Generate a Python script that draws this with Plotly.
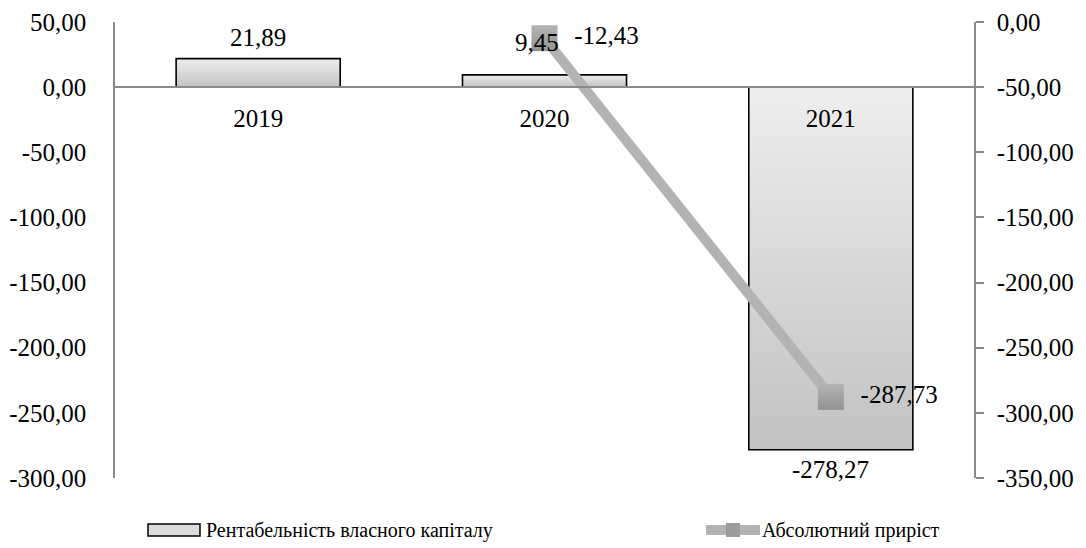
import plotly.graph_objects as go

# Data
categories = ["2019", "2020", "2021"]
roe_values = [21.89, 9.45, -278.27]          # Рентабельність власного капіталу
growth_categories = ["2020", "2021"]
growth_values = [-12.43, -287.73]            # Абсолютний приріст

left_range = [-300, 50]
right_range = [-350, 0]
left_ticks = [50, 0, -50, -100, -150, -200, -250, -300]
right_ticks = [0, -50, -100, -150, -200, -250, -300, -350]

legend_names = ["Рентабельність власного капіталу", "Абсолютний приріст"]

FONT = "Liberation Serif, Times New Roman, serif"
AXIS_GRAY = "#8a8a8a"
LINE_GRAY = "#b3b3b3"
BAR_WIDTH = 0.573

W, H = 1086, 548
M_L, M_R, M_T, M_B = 115, 112, 22, 70

# Pixel offsets (x, y) of each bar value label from the bar end
bar_label_shift = [(0, 21), (-8, 32), (0, -20)]


def fmt(v):
    return f"{v:.2f}".replace(".", ",")


def px_x(p):
    """Pixel column -> paper x fraction of the plot area."""
    return (p - M_L) / (W - M_L - M_R)


def px_y(p):
    """Pixel row -> paper y fraction of the plot area."""
    return (H - M_B - p) / (H - M_T - M_B)


fig = go.Figure()

# Bars drawn as filled rectangles so each can carry a vertical gradient
for i, v in enumerate(roe_values):
    x0, x1 = i - BAR_WIDTH / 2, i + BAR_WIDTH / 2
    fig.add_trace(go.Scatter(
        x=[x0, x1, x1, x0, x0],
        y=[0, 0, v, v, 0],
        mode="lines",
        fill="toself",
        fillgradient=dict(type="vertical",
                          colorscale=[[0, "#c2c2c2"], [1, "#eeeeee"]]),
        line=dict(color="black", width=1.6),
        name=legend_names[0],
        hoverinfo="skip",
        yaxis="y",
    ))

# Absolute growth line on the secondary axis
growth_x = [categories.index(c) for c in growth_categories]
fig.add_trace(go.Scatter(
    x=growth_x,
    y=growth_values,
    mode="lines+markers+text",
    line=dict(color=LINE_GRAY, width=10),
    marker=dict(symbol="square", size=26, color="#b4b4b4",
                gradient=dict(type="vertical", color="#929292"),
                line=dict(width=0)),
    text=["  " + fmt(v) for v in growth_values],
    textposition="middle right",
    textfont=dict(family=FONT, size=25, color="black"),
    name=legend_names[1],
    yaxis="y2",
))

zero_pos = (0 - left_range[0]) / (left_range[1] - left_range[0])

axis_common = dict(
    showline=True,
    linecolor=AXIS_GRAY,
    linewidth=1.5,
    showgrid=False,
    zeroline=False,
    tickfont=dict(family=FONT, size=25, color="black"),
)

# Bar value labels (drawn above the line so they stay readable)
annotations = []
for i, v in enumerate(roe_values):
    dx, dy = bar_label_shift[i]
    annotations.append(dict(
        x=i, y=v, xref="x", yref="y", text=fmt(v), showarrow=False,
        xanchor="center", yanchor="middle", xshift=dx, yshift=dy,
        font=dict(family=FONT, size=25, color="black"),
    ))

# Legend row below the plot
leg_y = 530
shapes = [
    dict(type="rect", xref="paper", yref="paper",
         x0=px_x(148), x1=px_x(200), y0=px_y(536), y1=px_y(524),
         fillcolor="#dcdcdc", line=dict(color="black", width=1.5)),
    dict(type="line", xref="paper", yref="paper",
         x0=px_x(706), x1=px_x(760), y0=px_y(leg_y), y1=px_y(leg_y),
         line=dict(color=LINE_GRAY, width=10)),
    dict(type="rect", xref="paper", yref="paper",
         x0=px_x(726), x1=px_x(740), y0=px_y(leg_y + 7), y1=px_y(leg_y - 7),
         fillcolor="#9c9c9c", line=dict(width=0)),
]
annotations += [
    dict(xref="paper", yref="paper", x=px_x(204), y=px_y(leg_y),
         xanchor="left", yanchor="middle", showarrow=False,
         text=legend_names[0], font=dict(family=FONT, size=20, color="black")),
    dict(xref="paper", yref="paper", x=px_x(760), y=px_y(leg_y),
         xanchor="left", yanchor="middle", showarrow=False,
         text=legend_names[1], font=dict(family=FONT, size=20, color="black")),
]

fig.update_layout(
    width=W,
    height=H,
    margin=dict(l=M_L, r=M_R, t=M_T, b=M_B, autoexpand=False),
    paper_bgcolor="white",
    plot_bgcolor="white",
    showlegend=False,
    font=dict(family=FONT, size=25, color="black"),
    xaxis=dict(
        range=[-0.5, 2.5],
        tickmode="array",
        tickvals=list(range(len(categories))),
        ticktext=categories,
        anchor="free",
        position=zero_pos,
        ticks="",
        ticklabelstandoff=9,
        **axis_common,
    ),
    yaxis=dict(
        range=left_range,
        tickmode="array",
        tickvals=left_ticks,
        ticktext=[fmt(v) for v in left_ticks],
        ticks="",
        ticklabelstandoff=22,
        **axis_common,
    ),
    yaxis2=dict(
        range=right_range,
        overlaying="y",
        side="right",
        tickmode="array",
        tickvals=right_ticks,
        ticktext=[fmt(v) for v in right_ticks],
        ticks="outside",
        ticklen=8,
        tickcolor=AXIS_GRAY,
        tickwidth=1.5,
        ticklabelstandoff=8,
        **axis_common,
    ),
    shapes=shapes,
    annotations=annotations,
)

fig.write_html("out.html")
